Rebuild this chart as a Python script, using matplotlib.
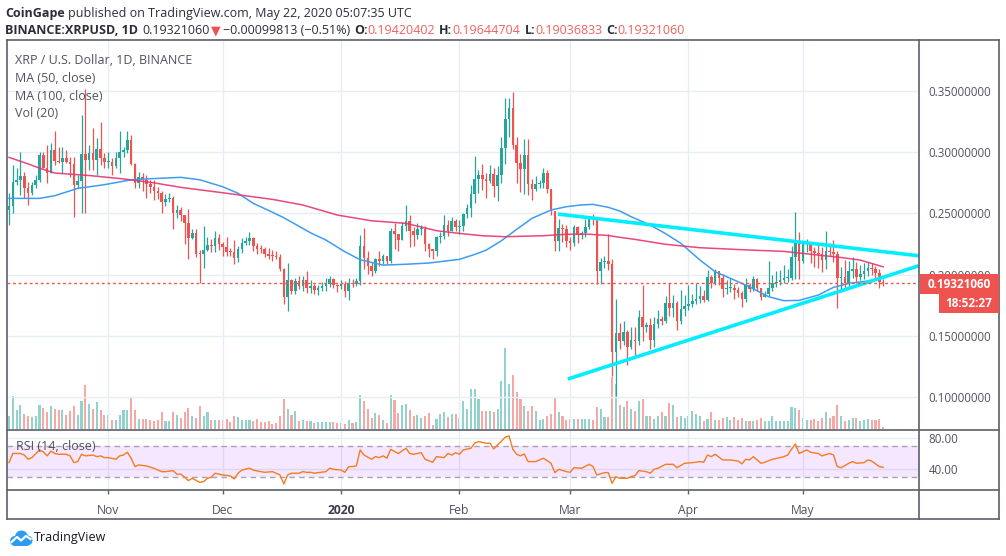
import numpy as np
import pandas as pd
import matplotlib
matplotlib.use("Agg")
import matplotlib.pyplot as plt
from matplotlib.patches import Rectangle, Circle
from matplotlib.lines import Line2D
from matplotlib.ticker import FormatStrFormatter

plt.rcParams['font.family'] = ['Open Sans', 'DejaVu Sans']

# ---------------- data ----------------
start_date = '2019-10-06'
first_open = 0.2530
closes = [
 0.2557,0.276,0.277,0.281,0.271,0.267,0.273,0.277,0.298,0.2875,
 0.283,0.302,0.293,0.292,0.295,0.292,0.290,0.273,0.2765,0.2986,
 0.294,0.299,0.294,0.303,0.295,0.292,0.292,0.289,0.295,0.300,
 0.3015,0.310,0.290,0.275,0.280,0.277,0.274,0.272,0.268,0.267,
 0.2596,0.262,0.263,0.2506,0.253,0.2487,0.2424,0.2296,0.234,0.2168,
 0.2167,0.220,0.224,0.2237,0.230,0.2249,0.2227,0.2187,0.2186,0.2132,
 0.2208,0.2260,0.2277,0.2296,0.2236,0.221,0.2208,0.2168,0.2154,0.2150,
 0.2148,0.205,0.1818,0.1955,0.1867,0.195,0.1905,0.196,0.189,0.191,
 0.1878,0.1893,0.1904,0.1927,0.1968,0.1918,0.1910,0.1927,0.1864,0.1932,
 0.1924,0.1945,0.2238,0.2137,0.2069,0.2028,0.2129,0.211,0.2156,0.211,
 0.2353,0.2328,0.2282,0.2396,0.2435,0.2355,0.232,0.237,0.2375,0.2252,
 0.2213,0.2192,0.2309,0.2315,0.2402,0.2355,0.2437,0.2388,0.240,0.2498,
 0.2545,0.2662,0.2779,0.2817,0.2779,0.2761,0.2826,0.2725,0.2817,0.3036,
 0.327,0.3358,0.3063,0.2916,0.2867,0.2981,0.2744,0.2703,0.2741,0.2749,
 0.2834,0.2697,0.2517,0.2274,0.2378,0.2376,0.2274,0.2261,0.2389,0.2329,
 0.234,0.2389,0.2463,0.2452,0.2029,0.2104,0.2112,0.2085,0.1367,0.1525,
 0.1457,0.153,0.141,0.147,0.1455,0.1656,0.1572,0.1585,0.147,0.1594,
 0.1635,0.162,0.1766,0.1727,0.1766,0.162,0.1722,0.1744,0.1757,0.1785,
 0.1798,0.1825,0.1793,0.1984,0.1935,0.2030,0.1976,0.1886,0.1894,0.1894,
 0.1875,0.1853,0.1804,0.1913,0.188,0.1962,0.1894,0.182,0.184,0.1894,
 0.1935,0.194,0.1954,0.197,0.1976,0.2148,0.2276,0.2112,0.2249,0.2249,
 0.2194,0.2175,0.2167,0.2118,0.2194,0.2186,0.2167,0.197,0.1981,0.1935,
 0.203,0.2044,0.1984,0.2003,0.203,0.2058,0.2050,0.2017,0.19420402,0.19321060]
highs = [
 0.2665,0.2897,0.287,0.3005,0.2837,0.276,0.276,0.2815,0.300,0.3005,
 0.306,0.3074,0.317,0.3046,0.3046,0.302,0.2965,0.2965,0.2815,0.3305,
 0.352,0.306,0.32,0.3114,0.325,0.299,0.3005,0.295,0.3005,0.317,
 0.3046,0.317,0.3141,0.291,0.2842,0.283,0.2815,0.2775,0.2775,0.272,
 0.268,0.2655,0.2665,0.264,0.257,0.255,0.247,0.254,0.2375,0.2375,
 0.2205,0.2395,0.2305,0.2295,0.2355,0.233,0.2265,0.2305,0.2215,0.2285,
 0.2235,0.230,0.2305,0.2345,0.2305,0.2255,0.224,0.2225,0.2215,0.2205,
 0.219,0.2168,0.2055,0.2094,0.1965,0.197,0.1985,0.1985,0.2028,0.196,
 0.1925,0.1915,0.194,0.197,0.1985,0.1975,0.1925,0.1955,0.1945,0.197,
 0.1965,0.1975,0.232,0.2383,0.2196,0.2105,0.214,0.2195,0.2165,0.2143,
 0.2383,0.2425,0.2322,0.243,0.2565,0.2485,0.2393,0.2422,0.2405,0.2395,
 0.2255,0.2213,0.2315,0.2345,0.2485,0.2445,0.2475,0.2455,0.2445,0.2505,
 0.2575,0.2735,0.297,0.2855,0.290,0.283,0.2895,0.2875,0.2885,0.3125,
 0.3445,0.3445,0.3495,0.3125,0.2985,0.311,0.3112,0.2785,0.2805,0.2775,
 0.287,0.2855,0.2697,0.2522,0.2455,0.2415,0.2405,0.2305,0.2405,0.2395,
 0.2355,0.2452,0.2475,0.2495,0.2465,0.2135,0.2155,0.233,0.2125,0.1798,
 0.1605,0.1625,0.1545,0.157,0.1575,0.1715,0.1913,0.1612,0.1645,0.1655,
 0.1715,0.1665,0.1828,0.1935,0.1835,0.1785,0.1875,0.1835,0.1915,0.1845,
 0.193,0.1905,0.1875,0.2035,0.200,0.2045,0.2025,0.2005,0.1955,0.1975,
 0.1925,0.190,0.1865,0.1975,0.1935,0.1985,0.1975,0.1895,0.1865,0.211,
 0.1995,0.203,0.204,0.2075,0.2043,0.2235,0.2508,0.2352,0.2265,0.229,
 0.2265,0.2225,0.2245,0.2225,0.2358,0.2255,0.2285,0.2195,0.2063,0.2118,
 0.2115,0.2145,0.2105,0.2075,0.2094,0.2105,0.2095,0.207,0.2045,0.19644704]
lows = [
 0.2407,0.250,0.273,0.265,0.2625,0.257,0.265,0.2706,0.276,0.287,
 0.2747,0.287,0.2897,0.291,0.283,0.291,0.280,0.2475,0.2706,0.250,
 0.250,0.2856,0.2856,0.2815,0.2897,0.287,0.287,0.2815,0.287,0.283,
 0.2965,0.299,0.2897,0.2706,0.2706,0.268,0.2625,0.2665,0.261,0.262,
 0.2505,0.256,0.259,0.2374,0.2465,0.244,0.2249,0.213,0.2295,0.2145,
 0.1935,0.2055,0.219,0.2185,0.2185,0.220,0.2155,0.2155,0.215,0.2085,
 0.2105,0.2175,0.2245,0.2245,0.2195,0.217,0.2175,0.2145,0.213,0.2115,
 0.2125,0.2033,0.176,0.1705,0.184,0.184,0.1885,0.187,0.185,0.1853,
 0.1845,0.1835,0.1865,0.1865,0.190,0.189,0.1858,0.1885,0.182,0.1796,
 0.190,0.1908,0.1914,0.2048,0.2007,0.1985,0.2015,0.207,0.2085,0.209,
 0.2093,0.2213,0.2190,0.2305,0.2355,0.2225,0.2232,0.2295,0.2325,0.2195,
 0.2143,0.2125,0.2155,0.2255,0.2295,0.2315,0.2355,0.2360,0.2335,0.2355,
 0.2465,0.2475,0.2588,0.2665,0.2695,0.2625,0.2745,0.2635,0.260,0.2745,
 0.2905,0.3125,0.3025,0.2745,0.2675,0.2655,0.2648,0.2612,0.2680,0.2705,
 0.2705,0.2665,0.2486,0.2192,0.2195,0.2265,0.2225,0.2205,0.2232,0.2255,
 0.2295,0.2305,0.2375,0.2405,0.1925,0.1925,0.2055,0.2035,0.117,0.101,
 0.139,0.1425,0.126,0.1395,0.1335,0.1425,0.1455,0.1533,0.1395,0.1405,
 0.1565,0.159,0.1605,0.166,0.1655,0.155,0.1595,0.1665,0.1715,0.1735,
 0.176,0.1765,0.1775,0.1785,0.1895,0.1915,0.1915,0.1815,0.1845,0.1855,
 0.1805,0.182,0.1735,0.1775,0.1855,0.1865,0.1865,0.1795,0.1815,0.1825,
 0.1865,0.190,0.1915,0.1935,0.194,0.1955,0.1962,0.1963,0.2095,0.2185,
 0.2095,0.2065,0.2055,0.2025,0.2048,0.215,0.2105,0.173,0.1862,0.1885,
 0.1885,0.197,0.1935,0.1955,0.1962,0.1985,0.1998,0.1962,0.1888,0.19036833]
volumes = [  # relative daily volume (10M XRP units)
 13,33,19,24,15,13,12,13,24,21,17,23,20,19,19,14,18,23,14,28,
 44,25,20,27,19,14,14,9,9,14,19,19,32,19,10,10,10,9,8,9,
 17,8,8,17,14,11,17,21,13,11,23,13,17,9,9,9,9,10,7,13,
 12,9,9,9,8,10,7,7,8,5,6,13,30,20,14,18,8,9,8,8,
 6,7,7,7,7,7,6,6,5,9,6,7,34,28,20,11,16,14,9,6,
 34,29,16,24,25,19,13,14,11,13,16,4,10,15,17,12,15,15,11,28,
 20,40,40,30,18,18,18,17,20,48,81,45,54,37,30,23,18,23,18,9,
 10,13,15,31,17,13,9,10,10,10,10,10,10,9,22,20,12,12,52,45,
 24,22,28,20,18,28,30,13,13,10,13,17,13,26,24,12,13,11,13,18,
 15,13,8,10,17,9,9,11,12,9,12,9,11,8,8,8,9,11,8,8,
 13,8,8,8,8,22,21,19,11,9,9,10,8,11,17,11,13,24,13,8,
 9,11,11,8,9,10,9,9,10,2]

ma50_days = [0,8,12,18,25,32,38,45,50,56,60,64,68,72,76,79,83,88,92,98,104,110,118,
             122,125,129,133,137,142,146,150,153,157,160,163,168,172,176,181,185,190,
             194,199,203,207,212,216,220,225,229]
ma50_vals = [0.2623,0.2623,0.2645,0.2705,0.2735,0.2775,0.2785,0.2795,0.2775,0.2718,0.2665,
             0.2582,0.2525,0.2465,0.2395,0.2342,0.2283,0.2187,0.2122,0.2078,0.2085,0.2095,
             0.2125,0.2165,0.2200,0.2277,0.2370,0.2460,0.2528,0.2555,0.2570,0.2574,0.2550,
             0.2520,0.2473,0.2405,0.2335,0.2256,0.2120,0.2024,0.1956,0.1900,0.1820,0.1787,
             0.1790,0.1833,0.1896,0.1929,0.1948,0.1978]
ma100_days = [0,5,8,12,21,30,38,45,56,69,77,86,95,104,112,118,124,130,140,146,152,157,
              160,164,172,181,194,203,212,218,223,229]
ma100_vals = [0.2958,0.2905,0.2870,0.2830,0.2810,0.2782,0.2750,0.2713,0.2669,0.2615,0.2569,
              0.2487,0.2440,0.2419,0.2359,0.2337,0.2318,0.2310,0.2318,0.2330,0.2330,0.2320,
              0.2305,0.2288,0.2248,0.2220,0.2201,0.2190,0.2160,0.2140,0.2119,0.2064]

rsi_days = [0,1,3,4,5,6,8,9,10,11,12,13,15,16,17,18,19,20,22,23,24,25,26,28,29,30,31,32,33,34,
            36,38,40,41,43,44,45,46,47,48,50,51,52,53,54,56,58,59,60,61,63,64,66,67,69,70,71,72,
            73,74,76,77,78,79,80,81,83,84,85,87,88,89,90,91,92,93,95,96,97,98,99,100,101,102,104,
            105,106,108,109,111,112,114,115,116,117,118,119,121,122,123,125,126,127,128,130,131,
            132,133,134,135,136,138,140,142,143,144,146,147,148,150,152,153,154,156,157,158,159,
            160,162,163,164,165,167,168,169,170,172,173,174,175,177,179,181,182,183,184,185,187,
            189,191,192,193,194,195,197,198,200,202,203,204,205,206,207,209,210,212,213,215,216,
            217,218,220,221,222,224,225,226,228,229]
rsi_vals = [48.4,60,60,58,52.7,54.8,64.5,62,57,63,60,59,59,57,48.4,49.7,59,57,58,56,57,54.8,
            54.8,52.7,57,58,61.5,54,43.4,45.5,44.2,41.3,37,37,38.3,33.7,34,30,25.7,28.6,23.5,
            24.4,28.6,30,35,32.8,31.6,27.8,35,39,41.3,39,37,36.2,37,35,32.8,21.4,32.8,35,35,37,
            36.2,36.2,35,35.8,37,41.3,40,39,36.2,43.4,43.4,44.2,64.5,58,52.7,56,54.8,57,54,65.3,
            62.4,60,66.6,60,59,61,52.7,48.9,56,54.8,60,58,61,59,64.5,66.6,73,75,73,73,65.7,70.8,
            80.5,82.2,65.3,59,57,59.4,49.7,49.7,54,47.6,35.8,40,37,36.2,42,41.3,46.3,43.4,32.8,
            35.8,35.8,22.3,30.7,28.6,28.6,30.7,32,38.3,37,35,40,41.3,46.3,46.3,46.3,42,47.6,
            48.4,49.7,48.9,58,56,59,51.8,51.8,50.5,46.8,52.7,51.8,56,47.6,48.9,52.7,54.8,56,58,
            65.3,72,60,64.5,61.5,60,57,60,58,43.4,42,47.6,49.7,47.6,48.4,51.8,50.5,43.4,42.6]

trend_upper_days = [143.8, 238.4]
trend_upper_prices = [0.2495, 0.2154]
trend_lower_days = [146.4, 238.4]
trend_lower_prices = [0.1147, 0.2073]

price_ticks = [0.10, 0.15, 0.20, 0.25, 0.30, 0.35]
rsi_ticks = [40, 80]
month_labels = ['Nov', 'Dec', '2020', 'Feb', 'Mar', 'Apr', 'May']
last_price = 0.19321060
countdown = '18:52:27'

# ---------------- style ----------------
UP = '#26a69a'
DN = '#ef5350'
GRID = '#e6edf3'
FRAME = '#5d606b'
TXT = '#50535e'
HDR = '#2a2e39'

W, H = 1006, 556
fig = plt.figure(figsize=(W / 100, H / 100), dpi=100)
fig.patch.set_facecolor('white')
def fx(p): return p / W
def fy(p): return 1 - p / H

closes = np.array(closes); highs = np.array(highs); lows = np.array(lows)
n = len(closes)
x = np.arange(n)
opens = np.r_[first_open, closes[:-1]]
up = closes >= opens
dates = pd.date_range(start_date, periods=n, freq='D')
month_pos = [i for i, d in enumerate(dates) if d.day == 1]

rect_main = [fx(7), fy(429), (919 - 7) / W, (429 - 40) / H]
ax_vol = fig.add_axes(rect_main)
ax = fig.add_axes(rect_main)
ax_vol.set_zorder(0); ax.set_zorder(1)
ax.patch.set_visible(False)
XL = (-0.52, 238.4)

# volume
vcol = [(0.149, 0.651, 0.604, 0.5) if u else (0.937, 0.325, 0.314, 0.5) for u in up]
ax_vol.bar(x, volumes, width=0.55, color=vcol, linewidth=0)
ax_vol.set_xlim(*XL); ax_vol.set_ylim(0, 389)
ax_vol.axis('off')

# candles
col = np.where(up, UP, DN)
hi = np.maximum(highs, np.maximum(opens, closes))
lo = np.minimum(lows, np.minimum(opens, closes))
ax.vlines(x, lo, hi, colors=col, linewidth=0.9, zorder=3)
ax.bar(x, np.maximum(np.abs(closes - opens), 0.0008), bottom=np.minimum(opens, closes),
       width=0.68, color=col, linewidth=0, zorder=4)

ax.plot(ma50_days, ma50_vals, color='#3d9df2', lw=1.1, zorder=5)
ax.plot(ma100_days, ma100_vals, color='#e8336e', lw=1.1, zorder=5, alpha=0.9)
ax.plot(trend_upper_days, trend_upper_prices, color='#00eeff', lw=2.6, zorder=6,
        solid_capstyle='butt')
ax.plot(trend_lower_days, trend_lower_prices, color='#00eeff', lw=2.6, zorder=6,
        solid_capstyle='butt')
ax.axhline(last_price, color=DN, lw=1, ls=(0, (2, 2)), zorder=6)

ax.set_xlim(*XL); ax.set_ylim(0.0739, 0.3917)
ax.set_yticks(price_ticks)
ax.yaxis.set_major_formatter(FormatStrFormatter('%.8f'))
ax.yaxis.tick_right()
ax.set_xticks(month_pos)
ax.tick_params(axis='x', length=0, labelbottom=False)
ax.tick_params(axis='y', length=0, pad=7, labelsize=8.3, labelcolor=TXT)
ax.grid(True, color=GRID, lw=1)
ax.set_axisbelow(True)
for s in ax.spines.values(): s.set_visible(False)

# RSI
ax_r = fig.add_axes([fx(7), fy(490), (919 - 7) / W, (490 - 430) / H])
ax_r.axhspan(30, 70, color='#9915ff', alpha=0.1, lw=0)
ax_r.axhline(70, color='#a9a3b0', lw=1, ls=(0, (4, 3)))
ax_r.axhline(30, color='#a9a3b0', lw=1, ls=(0, (4, 3)))
ax_r.plot(rsi_days, rsi_vals, color='#f57c1f', lw=1)
ax_r.set_xlim(*XL); ax_r.set_ylim(13.8, 89.7)
ax_r.set_yticks(rsi_ticks)
ax_r.yaxis.set_major_formatter(FormatStrFormatter('%.2f'))
ax_r.yaxis.tick_right()
ax_r.set_xticks(month_pos)
ax_r.set_xticklabels(month_labels)
ax_r.tick_params(axis='y', length=0, pad=7, labelsize=8.3, labelcolor=TXT)
ax_r.tick_params(axis='x', length=3, width=1, color=FRAME, pad=7, labelsize=8.7,
                 labelcolor=TXT, direction='out')
for lab in ax_r.get_xticklabels():
    if lab.get_text() == '2020':
        lab.set_fontweight('bold'); lab.set_color('#3a3e49')
ax_r.grid(True, color=GRID, lw=1)
ax_r.set_axisbelow(True)
for s in ax_r.spines.values(): s.set_visible(False)

# frame lines
def hline(y, x0=7, x1=999):
    fig.add_artist(Line2D([fx(x0), fx(x1)], [fy(y), fy(y)], color=FRAME, lw=1.2))
def vline(xp, y0=40, y1=519):
    fig.add_artist(Line2D([fx(xp), fx(xp)], [fy(y0), fy(y1)], color=FRAME, lw=1.2))
hline(40); hline(429.5); hline(490); hline(519)
vline(7); vline(919); vline(999)

# price labels
fig.add_artist(Rectangle((fx(919.5), fy(293.5)), (999 - 919.5) / W, 19.5 / H,
                         facecolor=DN, edgecolor='none', zorder=10))
fig.text(fx(959), fy(284), '%.8f' % last_price, color='white', fontsize=8.5,
         fontweight='bold', ha='center', va='center', zorder=11)
fig.add_artist(Rectangle((fx(939), fy(313)), (999 - 939) / W, 19 / H,
                         facecolor=DN, edgecolor='none', zorder=10))
fig.text(fx(969), fy(303.5), countdown, color='white', fontsize=8.5,
         fontweight='bold', ha='center', va='center', zorder=11)

# legend texts
for yy, s in [(61, 'XRP / U.S. Dollar, 1D, BINANCE'), (79, 'MA (50, close)'),
              (96, 'MA (100, close)'), (113, 'Vol (20)')]:
    fig.text(fx(15), fy(yy), s, color=TXT, fontsize=9, ha='left', va='center')
fig.text(fx(16), fy(446), 'RSI (14, close)', color=TXT, fontsize=9, ha='left', va='center')

# header
renderer = fig.canvas.get_renderer()
def seq(xp, yp, parts, size):
    for s, kw, gap in parts:
        t = fig.text(fx(xp), fy(yp), s, ha='left', va='center', fontsize=size, **kw)
        bb = t.get_window_extent(renderer=renderer)
        xp = bb.x1 + gap

B = dict(fontweight='bold', color=HDR)
N = dict(color=HDR)
R = dict(color='#f0615d')
seq(5, 13, [('CoinGape', B, 3.5),
            ('published on TradingView.com, May 22, 2020 05:07:35 UTC', N, 0)], 9)
seq(5, 31, [('BINANCE:XRPUSD, 1D', B, 4), ('%.8f' % last_price, N, 1.5),
            ('▼', dict(color=DN, family=['DejaVu Sans']), 2.5),
            ('−0.00099813 (−0.51%)', N, 4),
            ('O:', B, 0), ('0.19420402', R, 4),
            ('H:', B, 0), ('0.19644704', R, 4),
            ('L:', B, 0), ('0.19036833', R, 4),
            ('C:', B, 0), ('0.19321060', R, 0)], 9)

# TradingView logo
axl = fig.add_axes([fx(9), fy(547), 24 / W, 18 / H])
axl.set_xlim(0, 24); axl.set_ylim(0, 18); axl.axis('off')
for cx, cy, r in [(6, 6, 5), (12.5, 10, 6.5), (18.5, 6.5, 5)]:
    axl.add_patch(Circle((cx, cy), r, color='#2d9cf0', lw=0))
axl.add_patch(Rectangle((6, 1), 12.5, 6, color='#2d9cf0', lw=0))
axl.plot([2.5, 8, 12, 17, 21.5], [5, 10, 6.5, 11, 8], color='white', lw=1.6)
fig.text(fx(34), fy(537), 'TradingView', color='#131722', fontsize=9, ha='left', va='center')

fig.savefig('out.png', dpi=100)
